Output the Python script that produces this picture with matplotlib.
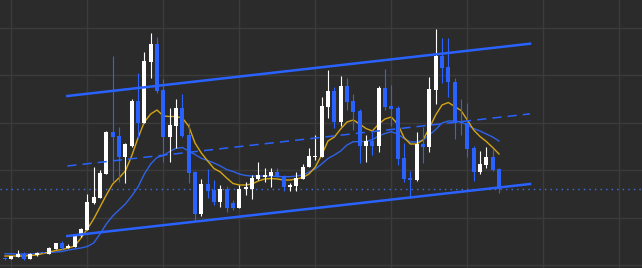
import numpy as np
import matplotlib
matplotlib.use("Agg")
import matplotlib.pyplot as plt

# candle data (open, high, low, close), one per bar
opens = [4.25, 4.15, 4.33, 4.60, 4.13, 4.53, 4.80, 4.63, 5.13, 5.73,
         5.23, 5.33, 6.43, 7.00, 9.73, 10.23, 12.60, 16.80, 16.40, 14.33,
         15.40, 19.90, 17.73, 23.83, 25.60, 21.00, 16.33, 17.40, 19.23, 16.50,
         12.80, 8.60, 11.60, 11.00, 9.83, 11.07, 9.73, 9.23, 11.15, 11.10,
         12.13, 12.33, 12.43, 12.77, 12.40, 11.30, 11.43, 12.10, 13.27, 14.27,
         14.33, 19.33, 20.90, 17.83, 21.40, 19.87, 18.93, 15.40, 15.90, 15.40,
         21.23, 19.43, 19.17, 14.17, 12.23, 12.00, 15.60, 15.33, 21.00, 24.40,
         23.30, 21.83, 17.83, 17.67, 15.20, 12.83, 13.50, 14.33, 13.10]
highs = [4.35, 4.45, 5.00, 4.80, 4.70, 4.80, 4.85, 5.33, 5.73, 5.90,
         5.63, 6.47, 7.23, 10.57, 13.30, 13.00, 16.93, 24.40, 17.30, 15.70,
         20.10, 22.73, 24.80, 26.73, 26.33, 22.07, 19.23, 20.13, 20.60, 17.73,
         12.90, 12.07, 13.10, 12.00, 11.50, 11.40, 10.00, 11.53, 11.83, 12.50,
         13.83, 13.23, 13.20, 13.17, 12.50, 11.67, 12.83, 13.60, 15.17, 16.50,
         20.27, 23.00, 21.27, 22.40, 22.17, 20.60, 19.10, 16.50, 16.80, 21.40,
         23.07, 21.50, 19.40, 15.67, 12.90, 16.77, 17.33, 22.27, 27.10, 26.23,
         26.23, 22.17, 20.10, 19.67, 15.40, 14.90, 15.33, 15.10, 13.20]
lows = [4.05, 4.13, 4.33, 4.00, 4.10, 4.40, 4.65, 4.63, 5.13, 5.10,
        5.23, 5.33, 6.33, 7.00, 9.60, 10.23, 12.60, 11.83, 11.83, 11.70,
        15.30, 16.20, 17.70, 22.20, 20.70, 13.83, 13.83, 15.17, 16.30, 11.73,
        7.93, 8.43, 10.20, 9.50, 9.27, 8.80, 9.00, 9.23, 10.50, 10.10,
        12.00, 11.83, 11.33, 12.30, 10.93, 10.93, 10.93, 12.10, 13.27, 14.00,
        14.33, 18.20, 17.20, 17.40, 19.00, 17.00, 13.67, 13.83, 14.50, 14.83,
        19.00, 17.40, 13.50, 11.83, 10.17, 11.90, 13.67, 14.83, 19.60, 21.73,
        20.27, 16.07, 16.50, 14.27, 11.93, 12.60, 13.23, 12.90, 10.73]
closes = [4.10, 4.40, 4.60, 4.13, 4.60, 4.73, 4.70, 5.23, 5.73, 5.20,
          5.43, 6.47, 7.13, 9.83, 10.33, 12.73, 16.83, 16.33, 14.33, 15.60,
          19.90, 17.73, 23.90, 25.63, 20.90, 16.33, 17.50, 19.23, 16.40, 12.73,
          8.60, 11.63, 10.90, 9.83, 11.10, 9.20, 9.23, 11.07, 11.30, 12.17,
          12.50, 12.50, 12.77, 12.33, 11.33, 11.50, 12.17, 13.27, 14.40, 14.40,
          19.40, 20.93, 17.83, 21.40, 19.83, 18.83, 15.40, 15.90, 15.40, 21.23,
          19.33, 19.10, 14.10, 12.10, 12.00, 15.60, 15.33, 21.10, 24.40, 23.23,
          21.77, 17.73, 17.67, 15.13, 12.83, 13.60, 14.33, 13.00, 11.07]

# moving averages, one value per bar
ma_fast = [4.40, 4.40, 4.40, 4.40, 4.45, 4.50, 4.65, 4.80, 4.95, 5.05,
           5.20, 5.40, 6.20, 7.10, 8.10, 9.30, 10.50, 11.60, 12.20, 12.90,
           14.40, 16.20, 17.80, 18.60, 19.00, 18.40, 18.35, 18.35, 18.20, 17.40,
           15.70, 14.70, 13.90, 13.15, 12.80, 12.20, 11.65, 11.50, 11.50, 11.60,
           11.90, 12.10, 12.15, 12.10, 12.00, 12.00, 12.10, 12.25, 12.60, 13.30,
           14.50, 15.90, 16.30, 17.10, 17.80, 18.00, 17.60, 17.15, 16.90, 17.60,
           18.10, 18.30, 17.60, 16.25, 15.60, 15.60, 16.00, 17.20, 18.50, 19.50,
           19.75, 19.35, 18.95, 18.00, 17.00, 16.35, 15.85, 15.25, 14.60]
ma_slow = [4.63, 4.62, 4.60, 4.60, 4.60, 4.65, 4.70, 4.73, 4.80, 4.85,
           5.00, 5.10, 5.20, 5.35, 5.70, 6.60, 7.60, 8.40, 9.00, 9.60,
           10.40, 11.30, 12.60, 13.60, 14.25, 14.45, 14.85, 15.17, 15.25, 14.90,
           14.55, 14.17, 13.95, 13.70, 13.40, 13.05, 12.85, 12.60, 12.45, 12.40,
           12.40, 12.40, 12.40, 12.35, 12.33, 12.33, 12.40, 12.50, 12.80, 13.10,
           13.60, 14.15, 14.50, 14.90, 15.50, 15.83, 15.83, 15.85, 16.05, 16.40,
           16.65, 16.83, 16.60, 16.15, 15.80, 15.80, 16.00, 16.50, 17.05, 17.70,
           17.90, 17.90, 17.80, 17.50, 17.15, 16.90, 16.60, 16.30, 15.90]

# channel drawn on the chart (bar index, price)
channel_x = [9.84, 82.9]
channel_upper = [20.40, 25.63]
channel_lower = [6.40, 11.60]
support_level = 11.1

bg = '#2b2b2b'
grid_c = '#3b3b3b'
up_c = '#ffffff'
down_c = '#2962ff'
fast_c = '#d4a514'
slow_c = '#2f62e6'

fig = plt.figure(figsize=(6.42, 2.68), dpi=100, facecolor=bg)
ax = fig.add_axes([0, 0, 1, 1], facecolor=bg)

idx = np.arange(len(closes))
o = np.array(opens)
c = np.array(closes)
colors = [up_c if cl >= op else down_c for op, cl in zip(o, c)]

# grid
for gx in range(1, 101, 12):
    ax.axvline(gx, color=grid_c, lw=1.0, zorder=0)
for gy in [3.5, 8.25, 13.0, 17.75, 22.5, 27.25]:
    ax.axhline(gy, color=grid_c, lw=1.0, zorder=0)

ax.axhline(support_level, color='#3d6fe0', lw=1.0, ls=(0, (1, 3)), zorder=1)

# moving averages
ax.plot(idx, ma_slow, color=slow_c, lw=1.0, zorder=2)
ax.plot(idx, ma_fast, color=fast_c, lw=1.0, zorder=2)

# candles
ax.vlines(idx, lows, highs, colors=colors, lw=0.8, zorder=3)
body_lo = np.minimum(o, c)
body_h = np.maximum(np.abs(c - o), 0.08)
ax.bar(idx, body_h, bottom=body_lo, width=0.68, color=colors, linewidth=0, zorder=4)

# channel
ax.plot(channel_x, channel_upper, color='#2962ff', lw=1.8, zorder=5)
ax.plot(channel_x, channel_lower, color='#2962ff', lw=1.8, zorder=5)
mid = [(a + b) / 2 for a, b in zip(channel_upper, channel_lower)]
ax.plot(channel_x, mid, color='#2962ff', lw=1.1, ls=(0, (6, 4)), zorder=5)

ax.set_xlim(-0.79, 100.58)
ax.set_ylim(3.2, 30.0)
ax.set_xticks([])
ax.set_yticks([])
for s in ax.spines.values():
    s.set_visible(False)

fig.savefig('out.png', dpi=100, facecolor=bg)
